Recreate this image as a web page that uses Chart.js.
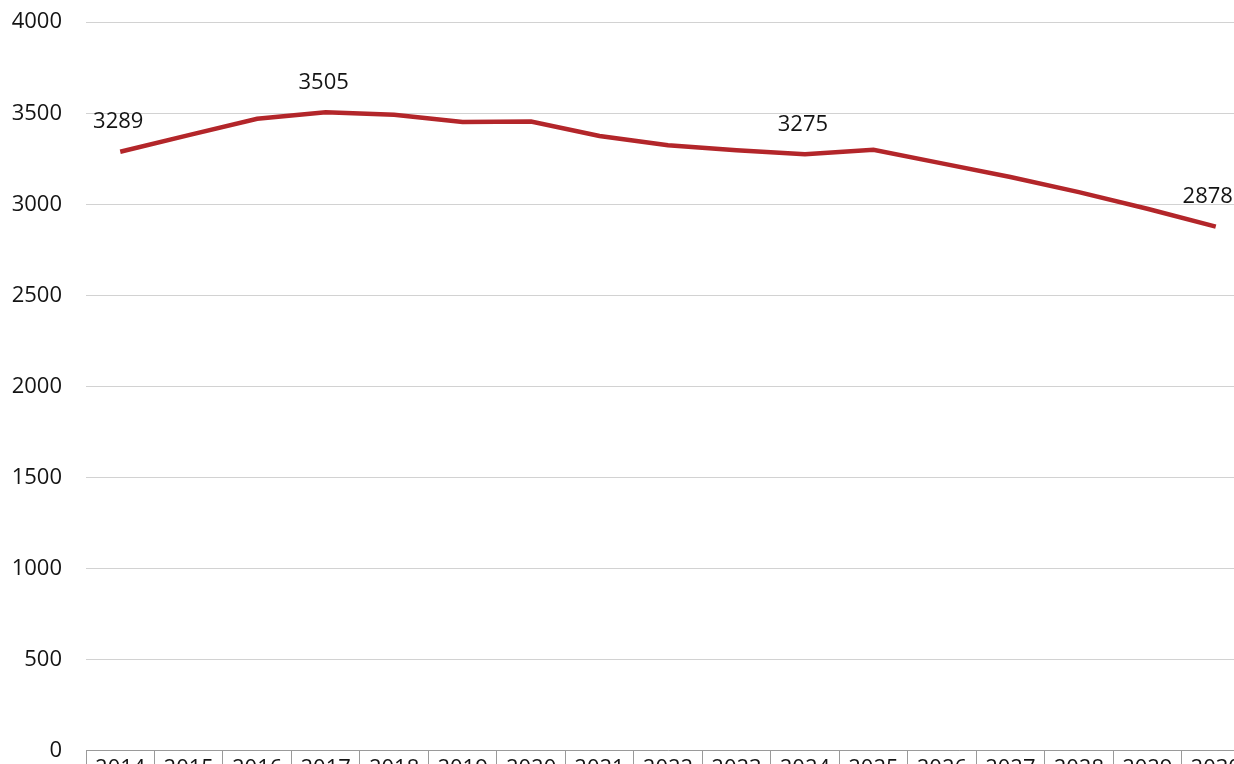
<!DOCTYPE html>
<html>
<head>
<meta charset="utf-8">
<script src="https://cdn.jsdelivr.net/npm/chart.js@4"></script>
<style>
  html, body { margin: 0; padding: 0; background: #fff; overflow: hidden; }
  #wrap { width: 1250px; height: 803px; margin-top: -15px; }
</style>
</head>
<body>
<div id="wrap"><canvas id="c" width="1250" height="803"></canvas></div>
<script>
const years = ['2014','2015','2016','2017','2018','2019','2020','2021','2022','2023','2024','2025','2026','2027','2028','2029','2030'];
const values = [3289, 3380, 3470, 3505, 3492, 3452, 3455, 3375, 3325, 3297, 3275, 3300, 3225, 3150, 3067, 2976, 2878];
const labelledYears = ['2014','2017','2024','2030'];
const yTicks = [0, 500, 1000, 1500, 2000, 2500, 3000, 3500, 4000];

// value labels above selected points
const pointLabels = {
  id: 'pointLabels',
  afterDatasetsDraw(chart){
    const ctx = chart.ctx;
    const meta = chart.getDatasetMeta(0);
    ctx.save();
    ctx.font = '22px "Open Sans", sans-serif';
    ctx.fillStyle = '#141414';
    ctx.textAlign = 'center';
    ctx.textBaseline = 'middle';
    years.forEach(function(y, i){
      if (labelledYears.indexOf(y) < 0) return;
      const p = meta.data[i];
      let dx = (i === years.length - 1) ? -8 : -2;
      ctx.fillText(String(values[i]), p.x + dx, p.y - 30);
    });
    ctx.restore();
  }
};

new Chart(document.getElementById('c').getContext('2d'), {
  type: 'line',
  data: {
    labels: years,
    datasets: [{
      data: values,
      borderColor: '#b3262a',
      borderWidth: 4.5,
      pointRadius: 0,
      tension: 0,
      fill: false
    }]
  },
  options: {
    responsive: false,
    animation: false,
    layout: { padding: { top: 10, right: 0, bottom: 0, left: 0 } },
    plugins: { legend: { display: false }, tooltip: { enabled: false } },
    scales: {
      x: {
        offset: true,
        grid: {
          offset: true,
          drawOnChartArea: false,
          drawTicks: true,
          tickLength: 30,
          color: '#9a9a9a',
          lineWidth: 1
        },
        border: { display: true, color: '#9a9a9a' },
        ticks: {
          padding: -25,
          maxRotation: 0,
          autoSkip: false,
          color: '#141414',
          font: { family: '"Open Sans", sans-serif', size: 22 }
        },
        afterFit: function(s){ s.height = 32; }
      },
      y: {
        min: 0,
        max: 4000,
        afterBuildTicks: function(s){ s.ticks = yTicks.map(function(v){ return {value: v}; }); },
        grid: { drawTicks: false, color: '#d2d2d2', lineWidth: 1 },
        border: { display: false },
        ticks: {
          padding: 24,
          color: '#141414',
          font: { family: '"Open Sans", sans-serif', size: 22 },
          callback: function(v){ return String(v); }
        },
        afterFit: function(s){ s.width = 86; }
      }
    }
  },
  plugins: [pointLabels]
});
</script>
</body>
</html>
